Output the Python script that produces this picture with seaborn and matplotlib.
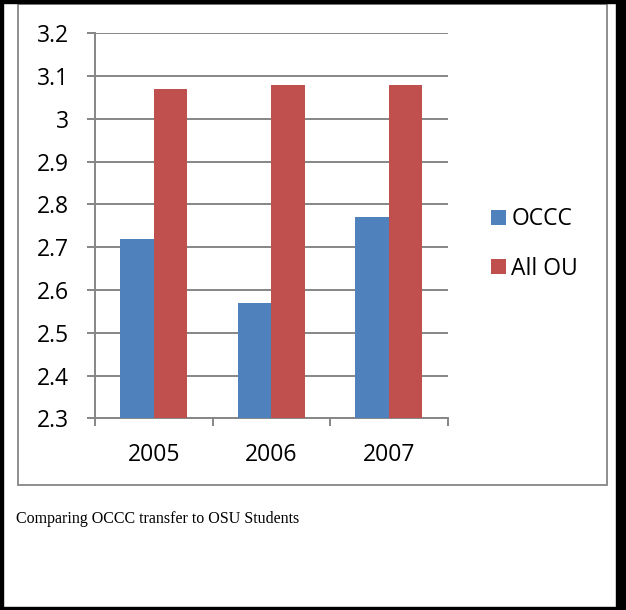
import matplotlib
matplotlib.use("Agg")
import matplotlib.pyplot as plt
from matplotlib.patches import Rectangle
import seaborn as sns
import pandas as pd

years = ["2005", "2006", "2007"]
series_names = ["OCCC", "All OU"]
occc = [2.72, 2.57, 2.77]
all_ou = [3.07, 3.08, 3.08]
y_ticks = [2.3, 2.4, 2.5, 2.6, 2.7, 2.8, 2.9, 3.0, 3.1, 3.2]
y_tick_labels = ["2.3", "2.4", "2.5", "2.6", "2.7", "2.8", "2.9", "3", "3.1", "3.2"]
caption = "Comparing OCCC transfer to OSU Students"

df = pd.DataFrame({
    "Year": years * 2,
    "Series": [series_names[0]] * 3 + [series_names[1]] * 3,
    "Value": occc + all_ou,
})

sns.set_style("white")
plt.rcParams["font.family"] = ["Open Sans", "DejaVu Sans"]
plt.rcParams["text.color"] = "black"

W, H = 626, 610
fig = plt.figure(figsize=(W / 100, H / 100), dpi=100)
ax = fig.add_axes([95 / W, 1 - 418.3 / H, (447.7 - 95) / W, (418.3 - 33.3) / H])

grid_c = "#868686"
sns.barplot(data=df, x="Year", y="Value", hue="Series",
            palette=["#4F81BD", "#C0504D"], saturation=1,
            width=0.57, gap=0, ax=ax, linewidth=0, zorder=3)

ax.set_ylim(2.3, 3.2)
ax.set_xlim(-0.5, 2.5)
ax.set_yticks(y_ticks)
ax.set_yticklabels(y_tick_labels)
ax.yaxis.grid(True, color=grid_c, linewidth=1.4, zorder=0)
ax.xaxis.grid(False)
ax.set_axisbelow(True)

# category boundary ticks (major), labels at centers (minor)
ax.set_xticks([-0.5, 0.5, 1.5, 2.5])
ax.set_xticklabels([])
ax.set_xticks([0, 1, 2], minor=True)
ax.set_xticklabels(years, minor=True)
ax.tick_params(axis="x", which="major", length=6, width=1.4, color=grid_c, direction="out")
ax.tick_params(axis="x", which="minor", length=0, pad=18, labelsize=16.5, labelcolor="black")
ax.tick_params(axis="y", length=6, width=1.4, color=grid_c, direction="out", pad=13,
               labelsize=16.5, labelcolor="black")
ax.tick_params(bottom=True, left=True)

for s in ["top", "right"]:
    ax.spines[s].set_visible(False)
for s in ["left", "bottom"]:
    ax.spines[s].set_color(grid_c)
    ax.spines[s].set_linewidth(1.4)

ax.set_xlabel("")
ax.set_ylabel("")

handles, labels = ax.get_legend_handles_labels()
leg = ax.legend(handles, labels, loc="center left",
                bbox_to_anchor=(491 / W, 1 - 244 / H), bbox_transform=fig.transFigure,
                frameon=False, fontsize=16.5, handlelength=0.66, handleheight=0.66,
                handletextpad=0.22, labelspacing=1.1, borderpad=0, borderaxespad=0,
                labelcolor="black")

# chart frame
fig.patches.append(Rectangle((18 / W, 1 - 485 / H), (607 - 18) / W, (485 - 4) / H,
                             transform=fig.transFigure, fill=False,
                             edgecolor=grid_c, linewidth=1.3))
# outer black border
blk = "black"
fig.patches.append(Rectangle((0, 0), 3 / W, 1, transform=fig.transFigure, color=blk))
fig.patches.append(Rectangle((0, 1 - 3 / H), 1, 3 / H, transform=fig.transFigure, color=blk))
fig.patches.append(Rectangle((616 / W, 0), 10 / W, 1, transform=fig.transFigure, color=blk))
fig.patches.append(Rectangle((0, 0), 1, 3 / H, transform=fig.transFigure, color=blk))

fig.text(16 / W, 1 - 519 / H, caption, family=["Liberation Serif", "DejaVu Serif"],
         fontsize=11.5, va="center", ha="left", color="black")

fig.savefig("out.png", dpi=100)
